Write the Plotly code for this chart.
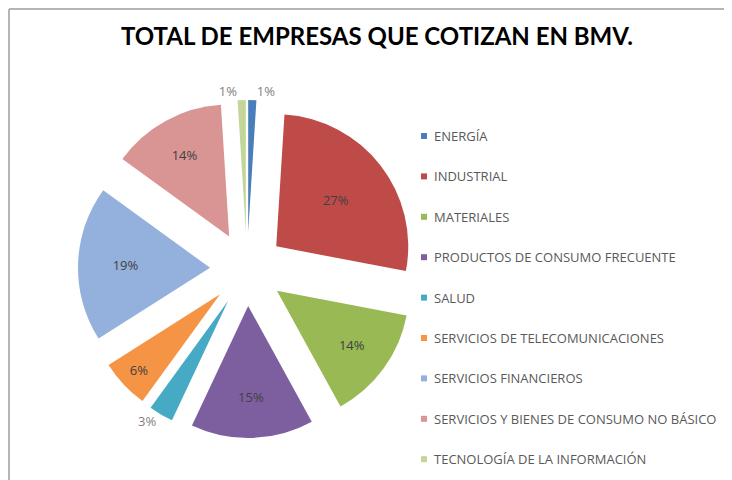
import plotly.graph_objects as go

W, H = 732, 480
# the page body adds an 8px offset, so positions below are screen px minus 8
OFF = 8

sectors = [
    "ENERGÍA",
    "INDUSTRIAL",
    "MATERIALES",
    "PRODUCTOS DE CONSUMO FRECUENTE",
    "SALUD",
    "SERVICIOS DE TELECOMUNICACIONES",
    "SERVICIOS FINANCIEROS",
    "SERVICIOS Y BIENES DE CONSUMO NO BÁSICO",
    "TECNOLOGÍA DE LA INFORMACIÓN",
]
shares = [1, 27, 14, 15, 3, 6, 19, 14, 1]
colors = [
    "#4a7ebb", "#be4b48", "#98b954", "#7d5fa0", "#46aac5",
    "#f59444", "#94b0dc", "#d99594", "#c2d69a",
]
text_pos = ["outside", "inside", "inside", "inside", "outside",
            "inside", "inside", "inside", "outside"]


def px_x(x):
    return (x - OFF) / W


def px_y(y):
    return 1 - (y - OFF) / H


fig = go.Figure()
fig.add_trace(
    go.Pie(
        labels=sectors,
        values=shares,
        sort=False,
        direction="clockwise",
        rotation=0,
        pull=0.28,
        marker=dict(colors=colors, line=dict(width=0)),
        texttemplate="%{percent:.0%}",
        textposition=text_pos,
        insidetextorientation="horizontal",
        insidetextfont=dict(family="Open Sans", size=13, color="#404040"),
        outsidetextfont=dict(family="Open Sans", size=13, color="#7f7f7f"),
        domain=dict(x=[px_x(78), px_x(416)], y=[px_y(438), px_y(100)]),
        automargin=False,
        showlegend=False,
        hoverinfo="label+percent",
    )
)

# legend drawn by hand so the item spacing matches the original
shapes = []
annotations = []
for i, (name, col) in enumerate(zip(sectors, colors)):
    yc = 136 + 40.4 * i
    shapes.append(
        dict(type="rect", xref="paper", yref="paper",
             x0=px_x(421), x1=px_x(427), y0=px_y(yc + 3), y1=px_y(yc - 3),
             fillcolor=col, line=dict(width=0))
    )
    annotations.append(
        dict(text=name, xref="paper", yref="paper", x=px_x(432), y=px_y(yc),
             xanchor="left", yanchor="middle", showarrow=False,
             font=dict(family="Open Sans", size=13, color="#595959"))
    )

# chart-area frame (left and top edges visible)
shapes.append(dict(type="line", xref="paper", yref="paper",
                   x0=px_x(9), x1=px_x(9), y0=0, y1=px_y(9),
                   line=dict(color="#b5b5b5", width=2)))
shapes.append(dict(type="line", xref="paper", yref="paper",
                   x0=px_x(9), x1=1, y0=px_y(9), y1=px_y(9),
                   line=dict(color="#b5b5b5", width=2)))

fig.update_layout(
    width=W,
    height=H,
    margin=dict(l=0, r=0, t=0, b=0, autoexpand=False),
    paper_bgcolor="white",
    title=dict(
        text="<b>TOTAL DE EMPRESAS QUE COTIZAN EN BMV.</b>",
        x=px_x(377),
        xanchor="center",
        y=px_y(37),
        yanchor="middle",
        yref="container",
        automargin=False,
        font=dict(family="Lato", size=24, color="#000000"),
    ),
    shapes=shapes,
    annotations=annotations,
)

fig.write_html("out.html")
